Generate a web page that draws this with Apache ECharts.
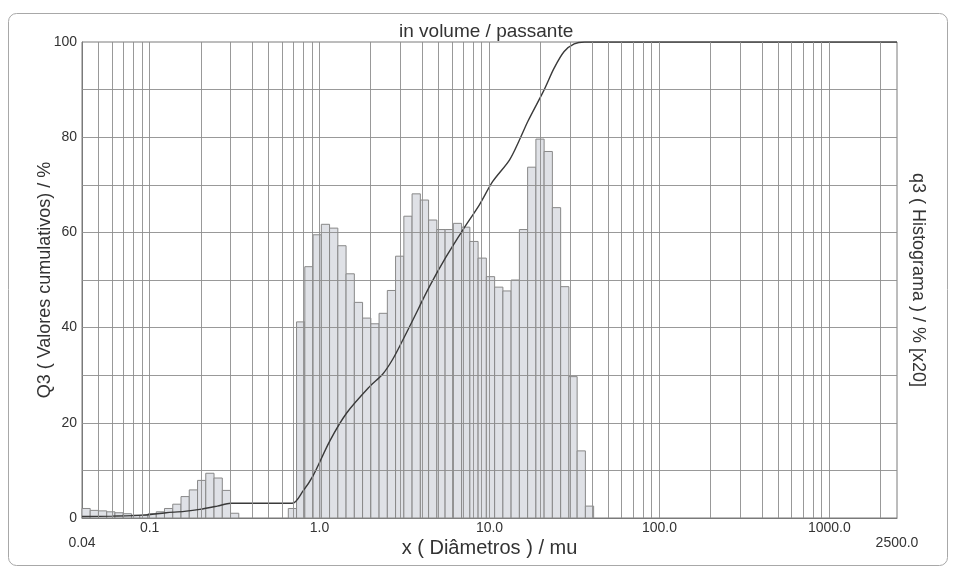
<!DOCTYPE html>
<html>
<head>
<meta charset="utf-8">
<script src="https://cdn.jsdelivr.net/npm/echarts@6/dist/echarts.min.js"></script>
<style>
  html, body { margin: 0; padding: 0; background: #ffffff; }
  #chart { width: 956px; height: 583px; }
</style>
</head>
<body>
<div id="chart"></div>
<script>
// Size classes (µm): lower/upper edges of each histogram bin
const binEdges = [
  0.040, 0.0447, 0.0500, 0.0559, 0.0625, 0.0699, 0.0782, 0.0875, 0.0978, 0.1094,
  0.1223, 0.1368, 0.1530, 0.1711, 0.1914, 0.2140, 0.2393, 0.2677, 0.2993, 0.3347,
  0.3743, 0.4186, 0.4682, 0.5235, 0.5855, 0.6547, 0.7322, 0.8188, 0.9157, 1.024,
  1.145, 1.281, 1.432, 1.602, 1.791, 2.003, 2.240, 2.505, 2.801, 3.133,
  3.503, 3.918, 4.381, 4.899, 5.479, 6.127, 6.852, 7.663, 8.569, 9.583,
  10.72, 11.99, 13.40, 14.99, 16.76, 18.75, 20.96, 23.44, 26.22, 29.32,
  32.79, 36.66, 41.00
];

// q3 histogram (% x20), one value per bin
const q3Histogram = [
  2.0, 1.6, 1.5, 1.3, 1.1, 0.9, 0.6, 0.6, 0.9, 1.3,
  2.0, 2.9, 4.5, 5.9, 7.9, 9.4, 8.4, 5.8, 1.0, 0,
  0, 0, 0, 0, 0, 2.0, 41.2, 52.8, 59.5, 61.7,
  60.9, 57.2, 51.3, 45.3, 42.0, 40.8, 43.0, 47.8, 55.0, 63.4,
  68.1, 66.8, 62.6, 60.6, 60.6, 61.9, 61.1, 58.1, 54.6, 50.7,
  48.5, 47.7, 50.0, 60.6, 73.7, 79.6, 77.0, 65.2, 48.6, 29.7,
  14.1, 2.5
];

// Q3 cumulative curve (passing, % volume)
const cumulativeSize = [
  0.04, 0.06, 0.091, 0.125, 0.16, 0.197, 0.25, 0.30, 0.69, 0.80,
  0.913, 1.15, 1.44, 1.97, 2.35, 2.70, 3.09, 3.54, 4.43, 5.56,
  6.96, 8.72, 10.45, 13.1, 15.0, 16.8, 21.0, 24.0, 27.5, 31.5,
  36.2, 2500
];
const cumulativeQ3 = [
  0.3, 0.4, 0.6, 1.1, 1.4, 1.8, 2.5, 3.1, 3.1, 5.7,
  8.8, 16.2, 22.0, 27.6, 30.2, 33.4, 37.4, 41.6, 48.6, 54.9,
  60.5, 65.8, 70.7, 75.2, 79.4, 83.3, 90.0, 94.5, 98.0, 99.6,
  100, 100
];

// Axis tick labels
const xTickValues = [0.04, 0.1, 1, 10, 100, 1000, 2500];
const xTickTexts = ['0.04', '0.1', '1.0', '10.0', '100.0', '1000.0', '2500.0'];
const yTickValues = [0, 20, 40, 60, 80, 100];

const FONT = '"Liberation Sans", Arial, sans-serif';
const TEXT = '#333333';
const GRID = '#8e8e8e';

// Log grid: 1..9 in every decade inside the axis range, plus a line every 10 %
const xMin = 0.04, xMax = 2500;
const verticalGrid = [];
for (let e = -2; e <= 3; e++) {
  for (let m = 1; m <= 9; m++) {
    const v = +(m * Math.pow(10, e)).toPrecision(3);
    if (v > xMin && v < xMax) verticalGrid.push(v);
  }
}
const horizontalGrid = [10, 20, 30, 40, 50, 60, 70, 80, 90];

const histogramData = q3Histogram.map((v, i) => [binEdges[i], binEdges[i + 1], v]);
const cumulativeData = cumulativeSize.map((x, i) => [x, cumulativeQ3[i]]);

function xLabel(value) {
  const idx = xTickValues.findIndex(t => Math.abs(Math.log10(t) - Math.log10(value)) < 1e-6);
  if (idx < 0) return '';
  const text = xTickTexts[idx];
  return (idx === 0 || idx === xTickValues.length - 1) ? '{edge|' + text + '}' : text;
}

const chart = echarts.init(document.getElementById('chart'), null, { renderer: 'canvas' });

chart.setOption({
  backgroundColor: '#ffffff',
  animation: false,
  textStyle: { fontFamily: FONT },
  title: {
    text: 'in volume / passante',
    left: 394,
    top: 17,
    textStyle: { fontFamily: FONT, fontSize: 19, fontWeight: 'normal', color: TEXT }
  },
  graphic: [{
    type: 'rect',
    silent: true,
    z: -10,
    shape: { x: 8.5, y: 13.5, width: 939, height: 552, r: 8 },
    style: { fill: 'none', stroke: '#a8a8a8', lineWidth: 1 }
  }],
  grid: {
    left: 82, right: 59, top: 42, bottom: 65,
    show: true, borderColor: '#7a7a7a', borderWidth: 1, backgroundColor: 'transparent'
  },
  xAxis: {
    type: 'log',
    logBase: 10,
    min: xMin,
    max: xMax,
    name: 'x ( Diâmetros ) / mu',
    nameLocation: 'middle',
    nameGap: 20,
    nameMoveOverlap: false,
    nameTextStyle: { fontFamily: FONT, fontSize: 20, color: TEXT },
    axisLine: { show: true, lineStyle: { color: '#7a7a7a', width: 1 } },
    axisTick: { show: false },
    splitLine: { show: false },
    minorTick: { show: false },
    axisLabel: {
      margin: 3,
      fontFamily: FONT,
      fontSize: 14,
      color: TEXT,
      showMinLabel: true,
      showMaxLabel: true,
      formatter: xLabel,
      rich: { edge: { fontFamily: FONT, fontSize: 14, color: TEXT, padding: [15, 0, 0, 0] } }
    }
  },
  yAxis: [{
    type: 'value',
    min: 0, max: 100, interval: 10,
    position: 'left',
    name: 'Q3 ( Valores cumulativos) / %',
    nameLocation: 'middle',
    nameGap: 28,
    nameMoveOverlap: false,
    nameRotate: 90,
    nameTextStyle: { fontFamily: FONT, fontSize: 18, color: TEXT },
    axisLine: { show: true, lineStyle: { color: '#7a7a7a', width: 1 } },
    axisTick: { show: false },
    splitLine: { show: false },
    axisLabel: {
      margin: 5, fontFamily: FONT, fontSize: 14, color: TEXT,
      formatter: v => (yTickValues.indexOf(v) >= 0 ? String(v) : '')
    }
  }, {
    type: 'value',
    min: 0, max: 100, interval: 10,
    position: 'right',
    name: 'q3 ( Histograma ) / % [x20]',
    nameLocation: 'middle',
    nameGap: 12,
    nameMoveOverlap: false,
    nameRotate: -90,
    nameTextStyle: { fontFamily: FONT, fontSize: 18, color: TEXT },
    axisLine: { show: false },
    axisTick: { show: false },
    splitLine: { show: false },
    axisLabel: { show: false }
  }],
  series: [{
    name: 'q3',
    type: 'custom',
    xAxisIndex: 0,
    yAxisIndex: 1,
    z: 2,
    silent: true,
    encode: { x: [0, 1], y: 2 },
    data: histogramData,
    renderItem: function (params, api) {
      const v = api.value(2);
      if (!(v > 0)) return null;
      const topLeft = api.coord([api.value(0), v]);
      const bottomRight = api.coord([api.value(1), 0]);
      return {
        type: 'rect',
        shape: {
          x: topLeft[0], y: topLeft[1],
          width: bottomRight[0] - topLeft[0],
          height: bottomRight[1] - topLeft[1]
        },
        style: { fill: '#dfe1e6', stroke: '#888888', lineWidth: 1 }
      };
    }
  }, {
    name: 'Q3',
    type: 'line',
    xAxisIndex: 0,
    yAxisIndex: 0,
    z: 4,
    silent: true,
    showSymbol: false,
    smooth: 0.3,
    data: cumulativeData,
    lineStyle: { color: '#3a3a3a', width: 1.4 },
    markLine: {
      silent: true,
      symbol: 'none',
      animation: false,
      label: { show: false },
      lineStyle: { color: GRID, width: 1, type: 'solid', opacity: 0.9 },
      emphasis: { disabled: true },
      data: verticalGrid.map(v => ({ xAxis: v })).concat(horizontalGrid.map(v => ({ yAxis: v })))
    }
  }]
});
</script>
</body>
</html>
